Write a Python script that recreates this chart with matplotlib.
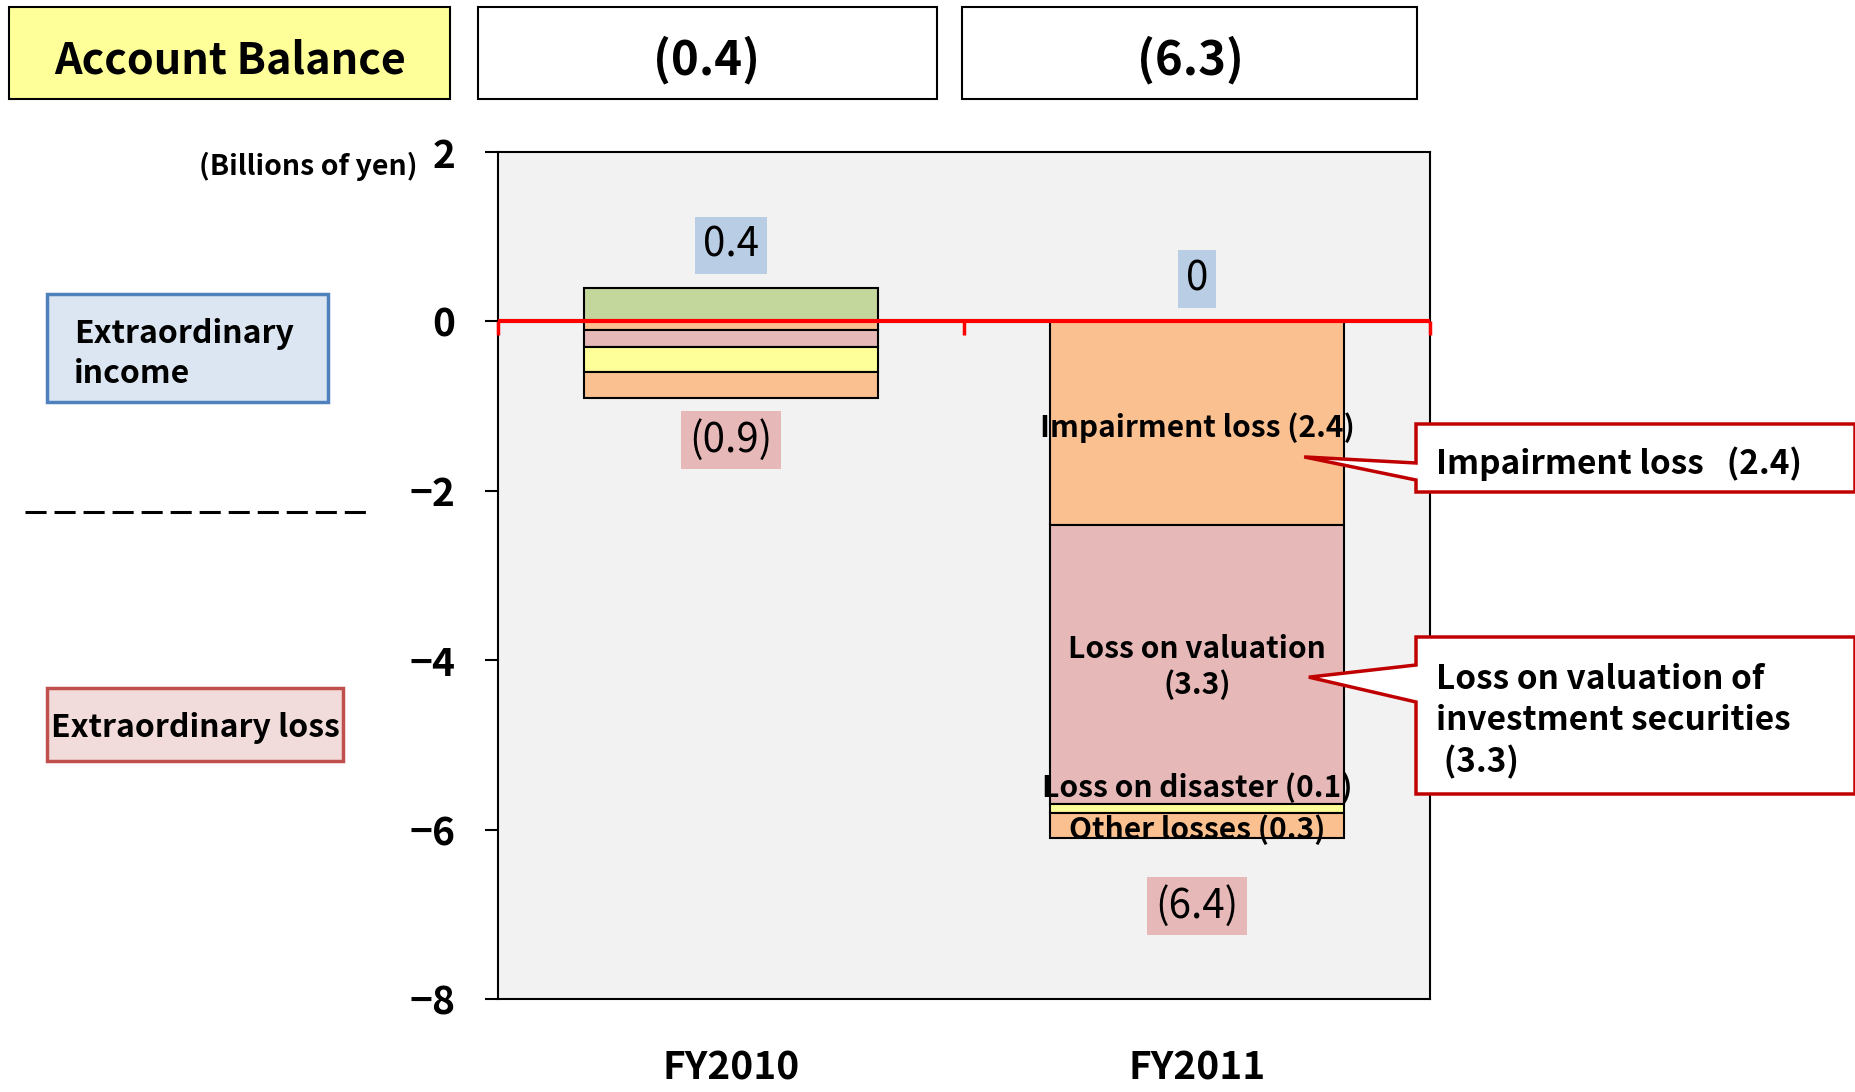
import numpy as np
import matplotlib
matplotlib.use("Agg")
import matplotlib.pyplot as plt
from matplotlib import patches
from matplotlib.lines import Line2D

# Extraordinary income / loss, billions of yen
years = ["FY2010", "FY2011"]
income = [0.4, 0.0]
impairment = [0.1, 2.4]
valuation = [0.2, 3.3]
disaster = [0.3, 0.1]
other_losses = [0.3, 0.3]
loss_totals = [0.9, 6.4]
balance_labels = ["(0.4)", "(6.3)"]
y_ticks = [2, 0, -2, -4, -6, -8]

W, H = 1856, 1092
plt.rcParams["font.family"] = ["Noto Sans CJK JP", "DejaVu Sans"]


def px(x, y):
    """Pixel position (from top-left) to figure fraction."""
    return x / W, 1 - y / H


fig = plt.figure(figsize=(W / 100, H / 100), dpi=100)
fig.patch.set_facecolor("white")


def rect_px(x0, y0, x1, y1, **kw):
    r = patches.Rectangle(px(x0, y1), (x1 - x0) / W, (y1 - y0) / H,
                          transform=fig.transFigure, **kw)
    fig.add_artist(r)


def text_px(x, y, s, **kw):
    fig.text(*px(x, y), s, **kw)


ax = fig.add_axes([498 / W, 1 - 999 / H, 932 / W, 847 / H])
ax.set_facecolor("#F2F2F2")
ax.set_xlim(-0.5, 1.5)
ax.set_ylim(-8, 2)
for sp in ax.spines.values():
    sp.set_linewidth(1.5)
    sp.set_color("black")

x = np.arange(len(years))
bar_w = 0.63
edge = dict(edgecolor="black", linewidth=1.5, zorder=2)

ax.bar(x, income, bar_w, color="#C3D69B", **edge)

loss_series = [
    (impairment, "#FAC090"),
    (valuation, "#E6B9B8"),
    (disaster, "#FFFF99"),
    (other_losses, "#FAC090"),
]
bottom = np.zeros(len(years))
mids = []
for vals, col in loss_series:
    v = -np.asarray(vals, dtype=float)
    ax.bar(x, v, bar_w, bottom=bottom, color=col, **edge)
    mids.append(bottom + v / 2)
    bottom = bottom + v

# zero line acting as the category axis
ax.plot([-0.5, 1.5], [0, 0], color="#FF0000", lw=3, zorder=5,
        clip_on=False, solid_capstyle="butt")
ax.vlines([-0.5, 0.5, 1.5], -0.16, 0, color="#FF0000", lw=2.5, zorder=5,
          clip_on=False)

# totals above / below each bar
for i in x:
    ax.text(i, income[i] + 0.5, f"{income[i]:g}", ha="center", va="center",
            fontsize=29, zorder=6,
            bbox=dict(boxstyle="square,pad=0.2", fc="#B9CDE5", ec="none"))
    ax.text(i, -loss_totals[i] - 0.5, f"({loss_totals[i]:.1f})",
            ha="center", va="center", fontsize=29, zorder=6,
            bbox=dict(boxstyle="square,pad=0.2", fc="#E6B9B8", ec="none"))

# segment labels on FY2011
seg_kw = dict(ha="center", va="center", fontsize=21.5, fontweight="bold",
              zorder=6, linespacing=1.2)
ax.text(1, mids[0][1] - 0.05, f"Impairment loss ({impairment[1]:.1f})", **seg_kw)
ax.text(1, mids[1][1] - 0.03, f"Loss on valuation\n({valuation[1]:.1f})", **seg_kw)
ax.text(1, mids[2][1] + 0.25, f"Loss on disaster ({disaster[1]:.1f})", **seg_kw)
ax.text(1, mids[3][1] - 0.05, f"Other losses ({other_losses[1]:.1f})", **seg_kw)

ax.set_yticks(y_ticks, labels=[str(t).replace("-", "\u2212") for t in y_ticks],
              fontsize=28, fontweight="bold")
ax.tick_params(axis="y", direction="out", length=9.5, width=1.5, pad=21)
ax.set_xticks(x, labels=years, fontsize=28, fontweight="bold")
ax.tick_params(axis="x", length=0, pad=36)


def callout(tip, box, base, label):
    x0, y0, x1, y1 = box
    tip_fig = fig.transFigure.inverted().transform(ax.transData.transform(tip))
    verts = [px(x0, y0), px(x1, y0), px(x1, y1), px(x0, y1),
             px(x0, base[1]), tuple(tip_fig), px(x0, base[0])]
    fig.add_artist(patches.Polygon(verts, closed=True, transform=fig.transFigure,
                                   fc="white", ec="#C00000", lw=2.5,
                                   joinstyle="miter", zorder=10))
    text_px(x0 + 20, (y0 + y1) / 2 + 6, label, ha="left", va="center",
            fontsize=24, fontweight="bold", linespacing=1.3, zorder=11)


callout((1.23, mids[0][1] - 0.4), (1416, 424, 1855, 492), (463, 480),
        f"Impairment loss   ({impairment[1]:.1f})")
callout((1.24, mids[1][1] - 0.15), (1416, 637, 1855, 794), (665, 702),
        f"Loss on valuation of\ninvestment securities\n ({valuation[1]:.1f})")

# header row
rect_px(9, 7, 450, 99, fc="#FFFF99", ec="black", lw=1.5)
rect_px(478, 7, 937, 99, fc="white", ec="black", lw=1.5)
rect_px(962, 7, 1417, 99, fc="white", ec="black", lw=1.5)
text_px(230, 60, "Account Balance", ha="center", va="center",
        fontsize=31, fontweight="bold")
for cx, lbl in zip([707, 1190], balance_labels):
    text_px(cx, 60, lbl, ha="center", va="center", fontsize=34, fontweight="bold")

text_px(418, 166, "(Billions of yen)", ha="right", va="center",
        fontsize=20.5, fontweight="bold")

# income / loss key on the left
rect_px(47, 294, 328, 402, fc="#DCE6F2", ec="#4F81BD", lw=2.5)
text_px(74, 354, "Extraordinary\nincome", ha="left", va="center",
        fontsize=23, fontweight="bold", linespacing=1.35)
fig.add_artist(Line2D([25 / W, 368 / W], [1 - 512 / H] * 2,
                      transform=fig.transFigure, color="black", lw=2.2,
                      linestyle=(0, (6.9, 2.6))))
rect_px(47, 688, 343, 761, fc="#F2DCDB", ec="#C0504D", lw=2.5)
text_px(195, 728, "Extraordinary loss", ha="center", va="center",
        fontsize=23, fontweight="bold")

fig.savefig("out.png", dpi=100)
